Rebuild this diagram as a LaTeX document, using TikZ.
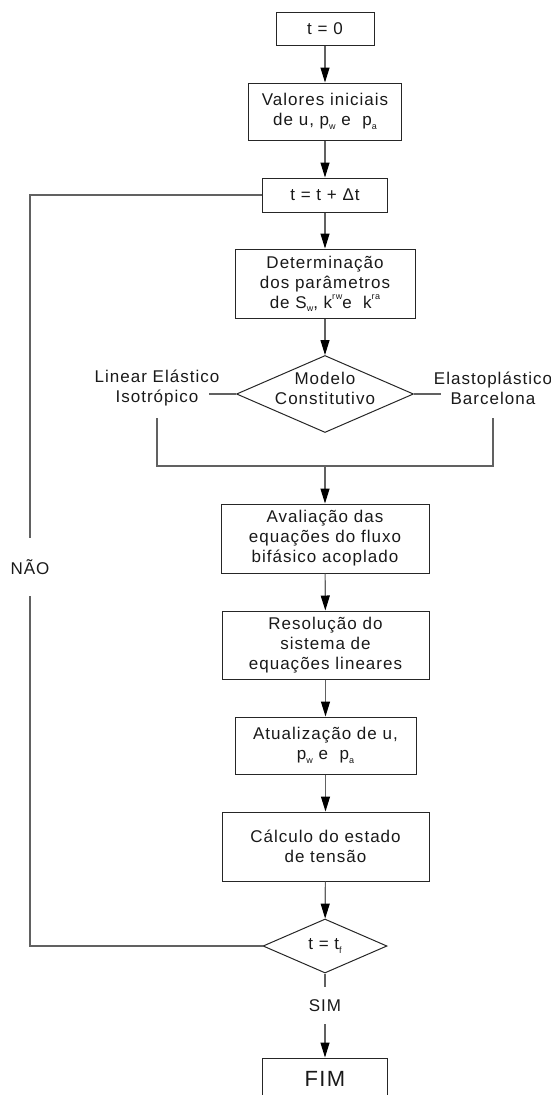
\documentclass[tikz,border=0pt]{standalone}
\usepackage{fontspec}
\setmainfont{Liberation Sans}[LetterSpace=6]
\usetikzlibrary{arrows.meta,shapes.geometric}
\newcommand\lo[1]{\raisebox{-0.35ex}{\fontsize{9}{9}\selectfont #1}}
\newcommand\hi[1]{\raisebox{0.95ex}{\fontsize{9}{9}\selectfont #1}}
\tikzset{
	txt/.style={font=\fontsize{17}{20}\selectfont, align=center, text=black!90},
	box/.style={txt, draw=black!85, line width=1pt, inner sep=0pt},
	cond/.style={txt, diamond, draw=black!85, line width=1pt, inner sep=0pt},
	line/.style={draw=black!62, line width=1.1pt},
	flow/.style={line, -{Triangle[length=15pt,width=9pt,color=black]}},
}

\begin{document}
\begin{tikzpicture}[x=1pt, y=-1pt]
			%%%%% START %%%%%
			\useasboundingbox (0, 0) rectangle (551, 1095);
			
			\node[box, minimum width=98pt, minimum height=33pt] (start) at (325, 28.5) {t = 0};
			\node[box, minimum width=153pt, minimum height=57pt] (init) at (325, 111.5) {Valores iniciais\\ de u, p\lo{w} e\ \ p\lo{a}};
			\node[box, minimum width=125pt, minimum height=34pt] (tnext) at (325, 195) {t = t + Δt};
			\node[box, minimum width=180pt, minimum height=69pt] (param) at (325, 283.5) {Determinação\\dos parâmetros\\ de S\lo{w}, k\hi{rw}e\ \ k\hi{ra}};
			
			\node[cond, minimum width=177pt, minimum height=77pt] (model) at (325, 394) {};
			\node[txt] (modeltxt) at (325, 388) {Modelo\\Constitutivo};
			\node[txt, minimum height=60pt, inner sep=0pt] (linear) at (157, 388) {Linear Elástico\\Isotrópico};
			\node[txt, minimum height=60pt, inner sep=0pt] (barca) at (493, 388) {Elastoplástico\\Barcelona};
			\coordinate (linend) at (209, 394);
			\coordinate (barend) at (441, 394);
			\coordinate (join) at (325, 466);
			
			\node[box, minimum width=208pt, minimum height=69pt] (eval) at (325, 538.5) {Avaliação das\\equações do fluxo\\bifásico acoplado};
			\node[box, minimum width=207pt, minimum height=68pt] (solve) at (325.5, 645) {Resolução do\\sistema de\\equações lineares};
			\node[box, minimum width=181pt, minimum height=57pt] (update) at (325.5, 745.5) {Atualização de u,\\p\lo{w} e\ \ p\lo{a}};
			\node[box, minimum width=207pt, minimum height=69pt] (stress) at (325.5, 846.5) {Cálculo do estado\\de tensão};
			
			\node[cond, minimum width=124pt, minimum height=54pt] (tend) at (325, 946) {t = t\lo{f}};
			\node[txt, minimum height=37pt, inner sep=0pt] (yes) at (325, 1005.5) {SIM};
			\node[box, minimum width=125pt, minimum height=42pt, font=\fontsize{22}{24}\selectfont] (fim) at (325, 1079) {FIM};
			\node[txt, minimum height=58pt, inner sep=0pt] (no) at (30, 567) {NÃO};
			
			\draw[flow] (start) -- (init);
			\draw[flow] (init) -- (tnext);
			\draw[flow] (tnext) -- (param);
			\draw[flow] (param) -- (model);
			\draw[line] (model.west) -- (linend);
			\draw[line] (model.east) -- (barend);
			\draw[line] (linear.south) |- (join) -| (barca.south);
			\draw[flow] (join) -- (eval);
			\draw[flow] (eval) -- (solve);
			\draw[flow] (solve) -- (update);
			\draw[flow] (update) -- (stress);
			\draw[flow] (stress) -- (tend);
			\draw[line] (tend) -- (yes);
			\draw[flow] (yes) -- (fim);
			
			\draw[line] (tend.west) -| (no.south);
			\draw[line] (no.north) |- (tnext.west);
			%%%%% END %%%%%
\end{tikzpicture}
\end{document}
